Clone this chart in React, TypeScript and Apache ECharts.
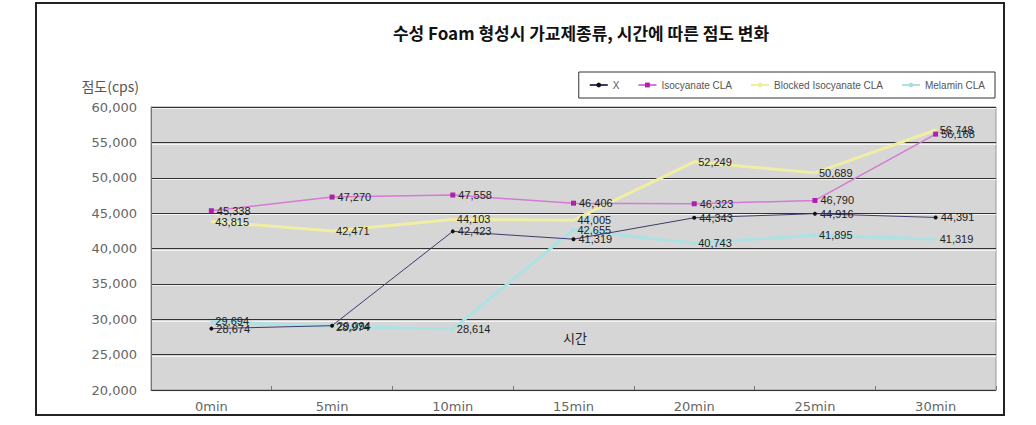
import React, { useEffect, useRef } from "react";
import * as echarts from "echarts";

const categories = ["0min", "5min", "10min", "15min", "20min", "25min", "30min"];
const seriesNames = ["X", "Isocyanate CLA", "Blocked Isocyanate CLA", "Melamin CLA"];
const xValues = [28674, 29094, 42423, 41319, 44343, 44916, 44391];
const isoValues = [45338, 47270, 47558, 46406, 46323, 46790, 56168];
const blockedValues = [43815, 42471, 44103, 44005, 52249, 50689, 56748];
const melaminValues = [29694, 28974, 28614, 42655, 40743, 41895, 41319];
const yTicks = { min: 20000, max: 60000, interval: 5000 };

const fmt = (v: number) => Number(v).toLocaleString("en-US");
const FONT = "'Liberation Sans', 'Noto Sans CJK KR', sans-serif";
const WFONT = "'DejaVu Sans', 'Liberation Sans', sans-serif";
const KFONT = "'Noto Sans CJK KR', 'Liberation Sans', sans-serif";

export default function App() {
  const ref = useRef<HTMLDivElement>(null);
  useEffect(() => {
    document.body.style.margin = "0";
    const chart = echarts.init(ref.current!, null, { renderer: "svg" });
    const label = {
      show: true,
      position: "right",
      distance: 3,
      color: "#222",
      fontSize: 11,
      fontFamily: FONT,
      formatter: (p: any) => fmt(p.value),
    };
    const gridBox = { left: 151, top: 107, width: 845, height: 283 };
    chart.setOption({
      animation: false,
      backgroundColor: "#ffffff",
      textStyle: { fontFamily: FONT },
      grid: [
        { ...gridBox, show: true, backgroundColor: "#d6d6d6", borderColor: "#999", borderWidth: 1 },
        { left: 151, top: 108.5, width: 845, height: 283, show: false },
      ],
      legend: {
        right: 41,
        top: 72,
        padding: [8, 10],
        itemGap: 18,
        itemWidth: 18,
        itemHeight: 6,
        borderColor: "#333",
        borderWidth: 1,
        backgroundColor: "#fff",
        textStyle: { fontSize: 10, color: "#555", fontFamily: FONT },
        data: seriesNames,
      },
      xAxis: [
        {
          type: "category",
          data: categories,
          gridIndex: 0,
          axisLine: { lineStyle: { color: "#777" } },
          axisTick: { show: true, inside: true, length: 4, lineStyle: { color: "#777" } },
          axisLabel: { color: "#666", fontSize: 13, margin: 10, fontFamily: WFONT },
        },
        { type: "category", data: categories, gridIndex: 1, show: false },
      ],
      yAxis: [
        {
          type: "value",
          gridIndex: 0,
          ...yTicks,
          axisLine: { show: true, lineStyle: { color: "#777" } },
          axisTick: { show: false },
          axisLabel: { color: "#666", fontSize: 13, margin: 14, fontFamily: WFONT, formatter: (v: number) => fmt(v) },
          splitLine: { show: true, lineStyle: { color: "#333", width: 1 } },
          z: 2,
        },
        {
          type: "value",
          gridIndex: 1,
          ...yTicks,
          axisLine: { show: false },
          axisTick: { show: false },
          axisLabel: { show: false },
          splitLine: { show: true, lineStyle: { color: "#f4f4f4", width: 1 } },
          z: 1,
        },
      ],
      graphic: [
        {
          type: "rect",
          shape: { x: 36, y: 3, width: 968, height: 412 },
          style: { fill: "none", stroke: "#222", lineWidth: 2 },
          silent: true,
        },
        {
          type: "text",
          x: 581,
          y: 32,
          style: { text: "수성 Foam 형성시 가교제종류, 시간에 따른 점도 변화", align: "center", verticalAlign: "middle", fill: "#111", font: `bold 17px ${KFONT}` },
        },
        {
          type: "text",
          x: 139,
          y: 86,
          style: { text: "점도(cps)", align: "right", verticalAlign: "middle", fill: "#555", font: `14px ${KFONT}` },
        },
        {
          type: "text",
          x: 575,
          y: 337,
          z: 10,
          style: { text: "시간", align: "center", verticalAlign: "middle", fill: "#222", font: `13px ${KFONT}` },
        },
      ],
      series: [
        {
          name: seriesNames[2],
          type: "line",
          data: blockedValues,
          z: 3,
          symbol: "circle",
          symbolSize: 2,
          itemStyle: { color: "#eeec9a" },
          lineStyle: { color: "#f0eea4", width: 3 },
          label,
        },
        {
          name: seriesNames[3],
          type: "line",
          data: melaminValues,
          z: 3,
          symbol: "circle",
          symbolSize: 2,
          itemStyle: { color: "#a4e0e2" },
          lineStyle: { color: "#ace2e4", width: 3 },
          label,
        },
        {
          name: seriesNames[1],
          type: "line",
          data: isoValues,
          z: 4,
          symbol: "rect",
          symbolSize: 5,
          itemStyle: { color: "#b020b0" },
          lineStyle: { color: "#d47ad4", width: 1.5 },
          label,
        },
        {
          name: seriesNames[0],
          type: "line",
          data: xValues,
          z: 5,
          symbol: "circle",
          symbolSize: 4,
          itemStyle: { color: "#111" },
          lineStyle: { color: "#3c3c6c", width: 1 },
          label,
        },
      ],
    });
    return () => chart.dispose();
  }, []);
  return <div ref={ref} style={{ width: 1036, height: 425 }} />;
}
